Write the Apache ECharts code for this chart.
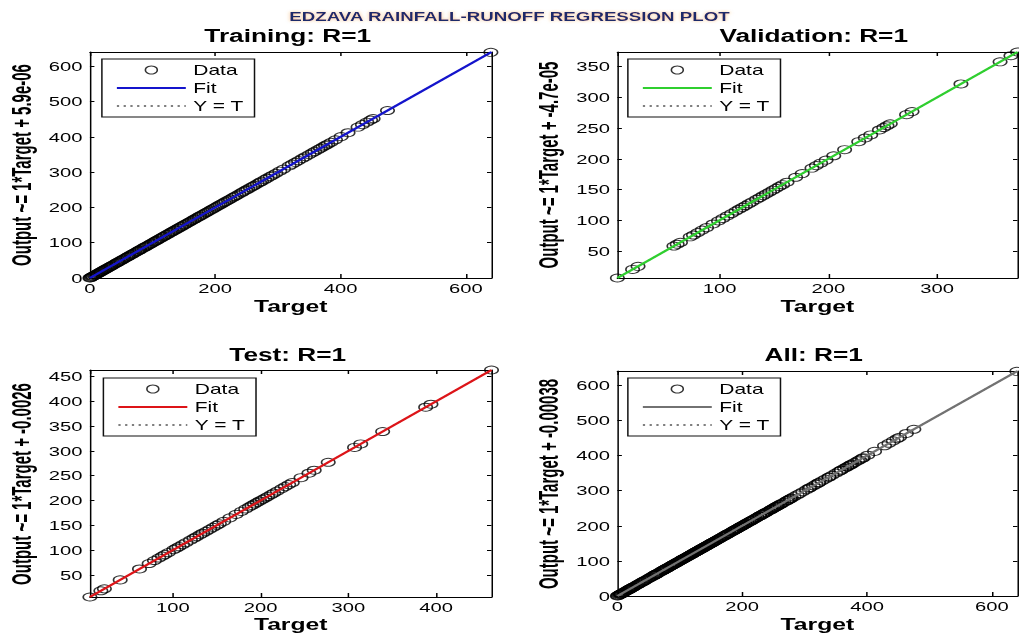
<!DOCTYPE html>
<html lang="en">
<head>
  <meta charset="UTF-8">
  <title>EDZAVA rainfall-runoff regression plot</title>
  <style>
    html, body {
      margin: 0;
      padding: 0;
      background: #fff;
      overflow: hidden;
    }

    /* the source figure is stretched sideways: draw it narrow, then widen the box */
    #myEcharts {
      width: 680px;
      height: 634px;
      transform: scaleX(1.4985);
      transform-origin: 0 0;
    }
  </style>
  <script src="https://cdn.jsdelivr.net/npm/echarts@6.0.0/dist/echarts.min.js"></script>
</head>

<body>
<div id="myEcharts"></div>

<script>
  // ---- data ----
  var mainTitle = 'EDZAVA RAINFALL-RUNOFF REGRESSION PLOT';
  var panelTitles = ['Training: R=1', 'Validation: R=1', 'Test: R=1', 'All: R=1'];
  var yLabels = [
    'Output ~= 1*Target + 5.9e-06',
    'Output ~= 1*Target + -4.7e-05',
    'Output ~= 1*Target + -0.0026',
    'Output ~= 1*Target + -0.00038'
  ];
  // axis limits of each panel (same on both axes)
  var limits = [[0, 641], [6, 374], [5.5, 463], [0, 641]];
  var xSplit = [3, 4, 4, 3];
  var ySplit = [6, 7, 9, 6];

  // [target, output]  (R=1, so outputs sit on the targets)
  var trainData = [
    [0, 0], [1, 1], [2.5, 2.5], [4, 4], [5, 5], [7, 7], [8.5, 8.5], [10, 10], [12, 12], [13, 13],
    [15, 15], [17, 17], [18, 18], [20, 20], [22, 22], [24, 24], [25, 25], [27, 27], [29, 29], [31, 31],
    [33, 33], [34, 34], [36, 36], [38, 38], [41, 41], [43, 43], [44, 44], [46, 46], [49, 49], [51, 51],
    [53, 53], [55, 55], [58, 58], [60, 60], [61, 61], [63, 63], [66, 66], [68, 68], [70, 70], [72, 72],
    [75, 75], [77, 77], [79, 79], [80, 80], [83, 83], [86, 86], [88, 88], [90, 90], [92, 92], [95, 95],
    [97, 97], [99, 99], [102, 102], [104, 104], [106, 106], [108, 108], [111, 111], [113, 113], [116, 116], [118, 118],
    [120, 120], [123, 123], [125, 125], [128, 128], [130, 130], [132, 132], [135, 135], [137, 137], [140, 140], [142, 142],
    [145, 145], [147, 147], [150, 150], [152, 152], [155, 155], [158, 158], [160, 160], [163, 163], [166, 166], [168, 168],
    [171, 171], [174, 174], [176, 176], [179, 179], [182, 182], [185, 185], [187, 187], [190, 190], [193, 193], [196, 196],
    [199, 199], [202, 202], [205, 205], [208, 208], [211, 211], [214, 214], [217, 217], [221, 221], [224, 224], [228, 228],
    [231, 231], [234, 234], [238, 238], [242, 242], [245, 245], [249, 249], [252, 252], [256, 256], [260, 260], [263, 263],
    [267, 267], [271, 271], [274, 274], [279, 279], [283, 283], [288, 288], [292, 292], [297, 297], [303, 303], [309, 309],
    [318, 318], [323, 323], [328, 328], [333, 333], [339, 339], [344, 344], [350, 350], [355, 355], [359, 359], [364, 364],
    [368, 368], [372, 372], [376, 376], [380, 380], [385, 385], [392, 392], [401, 401], [412, 412], [428, 428], [435, 435],
    [442, 442], [448, 448], [452, 452], [475, 475], [640, 640]
  ];
  var valData = [
    [6, 6], [20, 20], [25, 25], [58, 58], [61, 61], [64, 64], [73, 73], [76, 76], [80, 80], [84, 84],
    [88, 88], [94, 94], [99, 99], [103, 103], [107, 107], [111, 111], [115, 115], [118, 118], [121, 121], [124, 124],
    [127, 127], [130, 130], [134, 134], [137, 137], [140, 140], [143, 143], [146, 146], [149, 149], [152, 152], [155, 155],
    [158, 158], [162, 162], [170, 170], [176, 176], [185, 185], [189, 189], [193, 193], [198, 198], [205, 205], [215, 215],
    [228, 228], [234, 234], [239, 239], [247, 247], [251, 251], [254, 254], [257, 257], [272, 272], [277, 277], [322, 322],
    [358, 358], [368, 368], [374, 374]
  ];
  var testData = [
    [5.5, 5.5], [18, 18], [22, 22], [40, 40], [62, 62], [73, 73], [79, 79], [84, 84], [88, 88], [91, 91],
    [95, 95], [101, 101], [104, 104], [107, 107], [111, 111], [115, 115], [120, 120], [124, 124], [127, 127], [131, 131],
    [134, 134], [138, 138], [142, 142], [146, 146], [150, 150], [153, 153], [158, 158], [165, 165], [172, 172], [178, 178],
    [183, 183], [187, 187], [190, 190], [193, 193], [196, 196], [199, 199], [202, 202], [205, 205], [208, 208], [212, 212],
    [215, 215], [219, 219], [224, 224], [228, 228], [232, 232], [236, 236], [246, 246], [255, 255], [261, 261], [277, 277],
    [307, 307], [314, 314], [339, 339], [388, 388], [394, 394], [463, 463]
  ];
  var allData = trainData.concat(valData, testData);
  var panelData = [trainData, valData, testData, allData];

  // ---- look ----
  var fitColors = ['#1414cc', '#2fcf2f', '#dd1418', '#727272'];
  var FONT = "'Liberation Sans', Arial, sans-serif";
  var legendNames = { Data: 'Data', Fit: 'Fit', YT: 'Y = T' };

  // layout is in the narrow (unstretched) frame
  var gridBoxes = [
    { left: 60, top: 52, width: 268, height: 226 },
    { left: 412, top: 52, width: 267, height: 226 },
    { left: 60, top: 370, width: 268, height: 227 },
    { left: 412, top: 371, width: 267, height: 225 }
  ];
  var legendPos = [[68, 59], [419, 59], [69, 378], [419, 378]];
  var titlePos = [[192, 27], [543, 27], [192, 346], [543, 346]];
  var yLabelPos = [[14.5, 165], [366.4, 165], [14.7, 484], [366.4, 484]];
  var targetGap = [21, 21, 20, 20.5];

  var myChart = echarts.init(document.getElementById('myEcharts'), null, { renderer: 'svg' });

  var option = {
    animation: false,
    backgroundColor: '#fff',
    title: [{
      text: mainTitle,
      left: 'center',
      top: 10,
      padding: 0,
      textStyle: {
        fontFamily: FONT,
        fontSize: 12.5,
        fontWeight: 'bold',
        color: '#1e2b6a',
        textShadowColor: 'rgba(235,140,40,0.55)',
        textShadowBlur: 3
      }
    }],
    graphic: [],
    grid: [],
    xAxis: [],
    yAxis: [],
    legend: [],
    series: []
  };

  var hidden = { color: 'transparent', borderColor: 'transparent', borderWidth: 0, opacity: 0 };

  for (var k = 0; k < 4; k++) {
    var lo = limits[k][0], hi = limits[k][1];
    var g = gridBoxes[k];

    option.title.push({
      text: panelTitles[k],
      left: titlePos[k][0],
      top: titlePos[k][1],
      textAlign: 'center',
      padding: 0,
      textStyle: { fontFamily: FONT, fontSize: 17.5, fontWeight: 'bold', color: '#000' }
    });

    // vertical y label; its glyphs are widened like the rest of the figure
    option.graphic.push({
      type: 'text',
      x: yLabelPos[k][0],
      y: yLabelPos[k][1],
      rotation: Math.PI / 2,
      scaleY: 1.25,
      style: {
        text: yLabels[k],
        font: 'bold 15px ' + FONT,
        fill: '#000',
        align: 'center',
        verticalAlign: 'middle'
      }
    });

    option.grid.push({
      left: g.left, top: g.top, width: g.width, height: g.height,
      outerBoundsMode: 'none',
      containLabel: false
    });

    var lineCommon = { onZero: false, lineStyle: { color: '#000', width: 1 } };

    // bottom axis with labels, top axis only for the box ticks
    option.xAxis.push({
      gridIndex: k, type: 'value', position: 'bottom',
      min: lo, max: hi, splitNumber: xSplit[k],
      axisLine: lineCommon,
      axisTick: { inside: true, length: 4, lineStyle: { color: '#000' } },
      axisLabel: {
        color: '#000', fontFamily: FONT, fontSize: 13.5, lineHeight: 13, margin: 4,
        showMinLabel: lo === 0, showMaxLabel: false
      },
      splitLine: { show: false },
      name: 'Target', nameLocation: 'middle', nameGap: targetGap[k], nameMoveOverlap: false,
      nameTextStyle: { fontFamily: FONT, fontSize: 16.5, lineHeight: 15, fontWeight: 'bold', color: '#000' }
    });
    option.xAxis.push({
      gridIndex: k, type: 'value', position: 'top',
      min: lo, max: hi, splitNumber: xSplit[k],
      axisLine: lineCommon,
      axisTick: { inside: true, length: 4, lineStyle: { color: '#000' } },
      axisLabel: { show: false },
      splitLine: { show: false }
    });

    option.yAxis.push({
      gridIndex: k, type: 'value', position: 'left',
      min: lo, max: hi, splitNumber: ySplit[k],
      axisLine: lineCommon,
      axisTick: { inside: true, length: 3, lineStyle: { color: '#000' } },
      axisLabel: {
        color: '#000', fontFamily: FONT, fontSize: 13.5, margin: 5,
        showMinLabel: lo === 0, showMaxLabel: false
      },
      splitLine: { show: false }
    });
    option.yAxis.push({
      gridIndex: k, type: 'value', position: 'right',
      min: lo, max: hi, splitNumber: ySplit[k],
      axisLine: lineCommon,
      axisTick: { inside: true, length: 3, lineStyle: { color: '#000' } },
      axisLabel: { show: false },
      splitLine: { show: false }
    });

    // Y = T reference, fit line, then the data circles on top
    option.series.push({
      name: 'YT' + k, type: 'line',
      xAxisIndex: 2 * k, yAxisIndex: 2 * k,
      data: [[lo, lo], [hi, hi]],
      symbol: 'none', silent: true,
      itemStyle: { color: '#000' },
      lineStyle: { color: '#000', width: 1, type: [1.5, 3] }
    });
    option.series.push({
      name: 'Fit' + k, type: 'line',
      xAxisIndex: 2 * k, yAxisIndex: 2 * k,
      data: [[lo, lo], [hi, hi]],
      symbol: 'none', silent: true,
      itemStyle: { color: fitColors[k] },
      lineStyle: { color: fitColors[k], width: 2 }
    });
    option.series.push({
      name: 'Data' + k, type: 'scatter',
      xAxisIndex: 2 * k, yAxisIndex: 2 * k,
      data: panelData[k],
      symbol: 'circle', symbolSize: [9, 8], clip: false,
      itemStyle: { color: 'transparent', borderColor: '#000', borderWidth: 1 }
    });

    option.legend.push({
      left: legendPos[k][0], top: legendPos[k][1],
      orient: 'vertical', align: 'left',
      itemWidth: 46, itemHeight: 8, itemGap: 4,
      padding: [4, 7, 4, 9],
      borderColor: '#111', borderWidth: 1, backgroundColor: '#fff',
      selectedMode: false,
      textStyle: { color: '#000', fontFamily: FONT, fontSize: 14 },
      formatter: function (name) {
        return legendNames[name.replace(/\d+$/, '')];
      },
      data: [
        { name: 'Data' + k, icon: 'circle', itemStyle: { color: 'transparent', borderColor: '#000', borderWidth: 1 } },
        { name: 'Fit' + k, itemStyle: hidden, lineStyle: { color: fitColors[k], width: 2 } },
        { name: 'YT' + k, itemStyle: hidden, lineStyle: { color: '#000', width: 1, type: [1.5, 3] } }
      ]
    });
  }

  myChart.setOption(option);
</script>
</body>
</html>
